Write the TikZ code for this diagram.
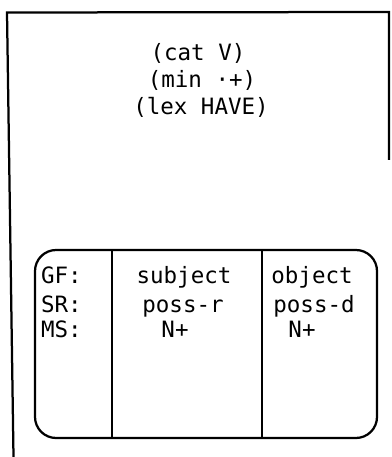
\documentclass[tikz,border=0pt]{standalone}
\usepackage{fontspec}
\setmonofont{DejaVu Sans Mono}
\begin{document}
\begin{tikzpicture}[x=0.025cm,y=-0.025cm,line width=1.6pt,
    feat/.style={anchor=base,inner sep=0pt,font=\ttfamily\fontsize{16}{19}\selectfont}]
    \useasboundingbox (0,0) rectangle (391,457);

    % outer frame
    \draw (13.5,457) -- (7,12.5) -- (389,12) -- (389,160);

    \node[feat] at (198,61) (cat) {(cat V)};
    \node[feat] at (202,88) (min) {(min ·+)};
    \node[feat] at (201,115) (lex) {(lex HAVE)};

    % argument table
    \draw[rounded corners=15] (35,250) rectangle (377,438);
    \draw (112,250) -- (112,438);
    \draw (262,250) -- (262,438);

    \node[feat,anchor=base west] at (40,283) (gf) {GF:};
    \node[feat,anchor=base west] at (40,312) (sr) {SR:};
    \node[feat,anchor=base west] at (40,337) (ms) {MS:};

    \node[feat] at (184,283) (subj) {subject};
    \node[feat] at (183,312) (possr) {poss-r};
    \node[feat] at (175,337) (msa) {N+};

    \node[feat] at (312,283) (obj) {object};
    \node[feat] at (314,312) (possd) {poss-d};
    \node[feat] at (302,337) (msb) {N+};
\end{tikzpicture}
\end{document}
